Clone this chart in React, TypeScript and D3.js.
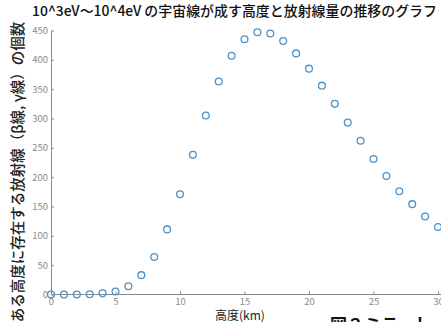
import React, { useEffect, useRef } from "react";
import * as d3 from "d3";

const heights = [0, 1, 2, 3, 4, 5, 6, 7, 8, 9, 10, 11, 12, 13, 14, 15, 16, 17, 18, 19, 20, 21, 22, 23, 24, 25, 26, 27, 28, 29, 30];
const counts = [0, 0, 0, 0.5, 2, 5, 14, 33, 64, 111, 171, 238, 305, 363, 407, 435, 447, 445, 432, 411, 385, 356, 325, 293, 262, 231, 202, 176, 154, 133, 115];
const xTicks = [0, 5, 10, 15, 20, 25, 30];
const yTicks = [0, 50, 100, 150, 200, 250, 300, 350, 400, 450];

const title = "10^3eV〜10^4eV の宇宙線が成す高度と放射線量の推移のグラフ";
const xLabel = "高度(km)";
const yLabel = "ある高度に存在する放射線（β線, γ線）の個数";
const caption = "図２ミラーし";

const W = 441;
const H = 322;

export default function App() {
  const ref = useRef<SVGSVGElement>(null);

  useEffect(() => {
    const svg = d3.select(ref.current);
    svg.selectAll("*").remove();

    const x = d3.scaleLinear().domain([0, 30]).range([51, 438]);
    const y = d3.scaleLinear().domain([0, 450]).range([294.5, 30.5]);
    const font = "'Noto Sans CJK JP', 'Noto Sans', sans-serif";
    const grey = "#8a8a8a";

    svg.append("rect").attr("width", W).attr("height", H).attr("fill", "#fff");

    // title
    svg
      .append("text")
      .attr("x", 32)
      .attr("y", 16)
      .attr("font-family", font)
      .attr("font-size", 13.9)
      .attr("font-weight", 500)
      .attr("fill", "#111")
      .attr("textLength", 405)
      .attr("lengthAdjust", "spacingAndGlyphs")
      .text(title);

    // x-axis
    const gx = svg.append("g").attr("transform", `translate(0,${y(0)})`);
    gx.call(
      d3.axisBottom(x).tickValues(xTicks).tickSize(-3).tickPadding(4).tickSizeOuter(0)
    );
    gx.select(".domain").attr("d", `M${x(0)},0H${W}`);

    // y-axis
    const gy = svg.append("g").attr("transform", `translate(${x(0)},0)`);
    gy.call(d3.axisLeft(y).tickValues(yTicks).tickSize(-3).tickPadding(5).tickSizeOuter(0));

    [gx, gy].forEach((g) => {
      g.selectAll(".domain").attr("stroke", grey).attr("stroke-width", 1);
      g.selectAll(".tick line").attr("stroke", grey);
      g.selectAll(".tick text")
        .attr("fill", grey)
        .attr("font-family", font)
        .attr("font-size", 9.5);
    });
    gy.selectAll(".tick text").attr("dx", 2);

    // points
    svg
      .append("g")
      .selectAll("circle")
      .data(heights)
      .join("circle")
      .attr("cx", (d) => x(d))
      .attr("cy", (d, i) => y(counts[i]))
      .attr("r", 3.4)
      .attr("fill", "none")
      .attr("stroke", "#4e92c6")
      .attr("stroke-width", 1.3);

    // axis labels
    svg
      .append("text")
      .attr("x", 240)
      .attr("y", 320)
      .attr("text-anchor", "middle")
      .attr("font-family", font)
      .attr("font-size", 12)
      .attr("fill", "#222")
      .text(xLabel);

    svg
      .append("text")
      .attr("transform", `translate(23,172) rotate(-90)`)
      .attr("text-anchor", "middle")
      .attr("font-family", font)
      .attr("font-size", 14.5)
      .attr("font-weight", 500)
      .attr("fill", "#222")
      .text(yLabel);

    svg
      .append("text")
      .attr("x", 330)
      .attr("y", 331)
      .attr("font-family", font)
      .attr("font-size", 17)
      .attr("font-weight", 700)
      .attr("fill", "#111")
      .text(caption);
  }, []);

  return (
    <svg
      ref={ref}
      width={W}
      height={H}
      style={{ position: "absolute", left: 0, top: 0 }}
    />
  );
}
